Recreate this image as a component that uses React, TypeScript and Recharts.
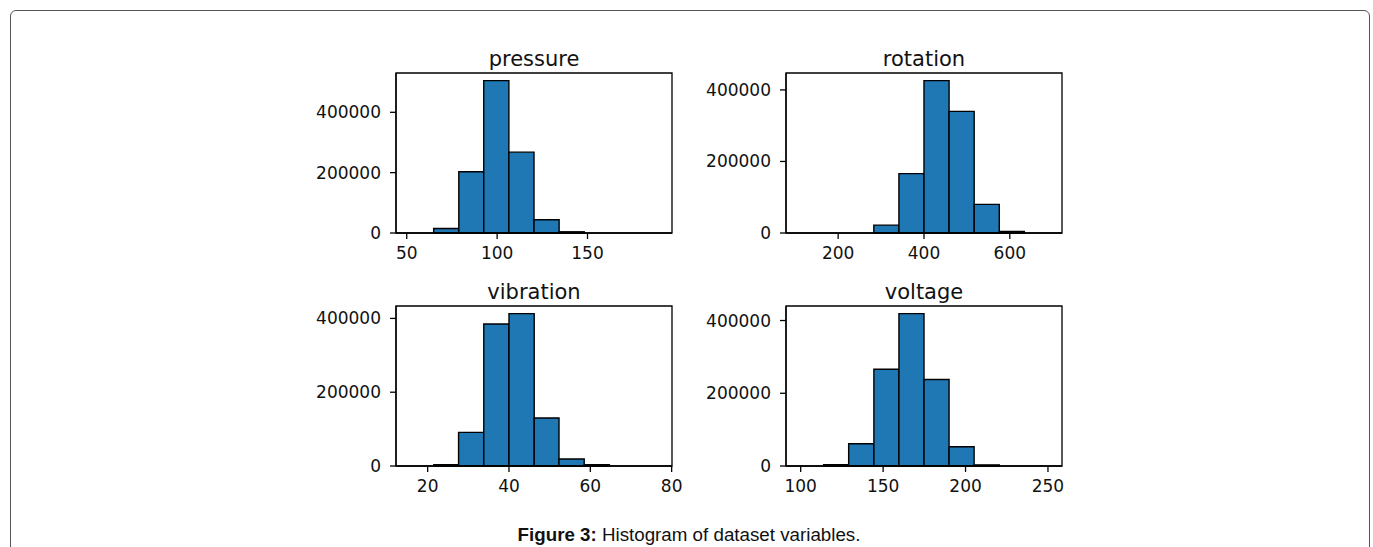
import React from "react";
import { ComposedChart, XAxis, YAxis, ReferenceArea } from "recharts";

// ---- data ----
const pressureEdges = [51.0, 64.9, 78.8, 92.6, 106.5, 120.4, 134.3, 148.2, 162.0, 175.9, 189.8];
const pressureCounts = [0, 15000, 203000, 505000, 268000, 44000, 4000, 0, 0, 0];
const pressureXTicks = [50, 100, 150];

const rotationEdges = [107.7, 166.2, 224.6, 283.1, 341.6, 400.0, 458.5, 517.0, 575.5, 633.9, 692.4];
const rotationCounts = [0, 0, 0, 22000, 166000, 426000, 340000, 80000, 4000, 0];
const rotationXTicks = [200, 400, 600];

const vibrationEdges = [15.3, 21.5, 27.6, 33.8, 40.0, 46.2, 52.3, 58.5, 64.7, 70.8, 77.0];
const vibrationCounts = [0, 3500, 91000, 385000, 413000, 130000, 19000, 3500, 0, 0];
const vibrationXTicks = [20, 40, 60, 80];

const voltageEdges = [98.7, 113.9, 129.1, 144.4, 159.6, 174.8, 190.0, 205.2, 220.5, 235.7, 250.9];
const voltageCounts = [0, 3500, 61000, 266000, 419000, 238000, 53000, 3000, 0, 0];
const voltageXTicks = [100, 150, 200, 250];

const yTicks = [0, 200000, 400000];

const titles = ["pressure", "rotation", "vibration", "voltage"];
const captionBold = "Figure 3:";
const captionText = " Histogram of dataset variables.";

// ---- layout ----
const PLOT_W = 276;
const PLOT_H = 160;
const LEFT_PAD = 100;
const TOP_PAD = 40;
const RIGHT_PAD = 30;
const BOTTOM_PAD = 50;
const FONT = "'DejaVu Sans', sans-serif";
const BAR_FILL = "#1f77b4";

type HistProps = {
  title: string;
  edges: number[];
  counts: number[];
  xTicks: number[];
  left: number;
  top: number;
};

function Hist({ title, edges, counts, xTicks, left, top }: HistProps) {
  const span = edges[edges.length - 1] - edges[0];
  const xDomain: [number, number] = [edges[0] - 0.05 * span, edges[edges.length - 1] + 0.05 * span];
  const yMax = Math.max(...counts) * 1.05;
  const yDomain: [number, number] = [0, yMax];
  const tickStyle = { fill: "#111", fontSize: 17, fontFamily: FONT };
  const lineStyle = { stroke: "#000", strokeWidth: 1.3 };
  return (
    <div style={{ position: "absolute", left: left - LEFT_PAD, top: top - TOP_PAD }}>
      <div
        style={{
          position: "absolute",
          left: LEFT_PAD,
          width: PLOT_W,
          top: 14,
          textAlign: "center",
          fontFamily: FONT,
          fontSize: 21,
          color: "#111",
          lineHeight: "25px",
        }}
      >
        {title}
      </div>
      <ComposedChart
        width={LEFT_PAD + PLOT_W + RIGHT_PAD}
        height={TOP_PAD + PLOT_H + BOTTOM_PAD}
        margin={{ top: TOP_PAD, right: RIGHT_PAD, bottom: 0, left: 0 }}
      >
        <XAxis
          type="number"
          dataKey="x"
          domain={xDomain}
          ticks={xTicks}
          allowDataOverflow
          height={BOTTOM_PAD}
          tick={tickStyle}
          tickSize={6}
          tickMargin={8}
          tickLine={lineStyle}
          axisLine={lineStyle}
        />
        <YAxis
          type="number"
          domain={yDomain}
          ticks={yTicks}
          allowDataOverflow
          width={LEFT_PAD}
          tick={tickStyle}
          tickSize={6}
          tickMargin={9}
          tickLine={lineStyle}
          axisLine={lineStyle}
        />
        {counts.map((c, i) => (
          <ReferenceArea
            key={i}
            x1={edges[i]}
            x2={edges[i + 1]}
            y1={0}
            y2={c}
            fill={BAR_FILL}
            fillOpacity={1}
            stroke="#000"
            strokeWidth={1.4}
            ifOverflow="visible"
          />
        ))}
        <ReferenceArea
          x1={xDomain[0]}
          x2={xDomain[1]}
          y1={yDomain[0]}
          y2={yDomain[1]}
          fill="none"
          fillOpacity={0}
          stroke="#000"
          strokeWidth={1.3}
          ifOverflow="visible"
        />
      </ComposedChart>
    </div>
  );
}

export default function App() {
  return (
    <div
      style={{
        position: "absolute",
        left: 0,
        top: 0,
        width: 1373,
        height: 547,
        overflow: "hidden",
        background: "#fff",
      }}
    >
      <div
        style={{
          position: "absolute",
          left: 10,
          top: 10,
          width: 1360,
          height: 600,
          border: "1.5px solid #555",
          borderRadius: 6,
          boxSizing: "border-box",
        }}
      />
      <Hist title={titles[0]} edges={pressureEdges} counts={pressureCounts} xTicks={pressureXTicks} left={396} top={73} />
      <Hist title={titles[1]} edges={rotationEdges} counts={rotationCounts} xTicks={rotationXTicks} left={786} top={73} />
      <Hist title={titles[2]} edges={vibrationEdges} counts={vibrationCounts} xTicks={vibrationXTicks} left={396} top={306} />
      <Hist title={titles[3]} edges={voltageEdges} counts={voltageCounts} xTicks={voltageXTicks} left={786} top={306} />
      <div
        style={{
          position: "absolute",
          left: 0,
          width: 1378,
          top: 524,
          textAlign: "center",
          fontFamily: "'Liberation Sans', Arial, sans-serif",
          fontSize: 18.75,
          color: "#111",
          lineHeight: "22px",
        }}
      >
        <b>{captionBold}</b>
        {captionText}
      </div>
    </div>
  );
}
